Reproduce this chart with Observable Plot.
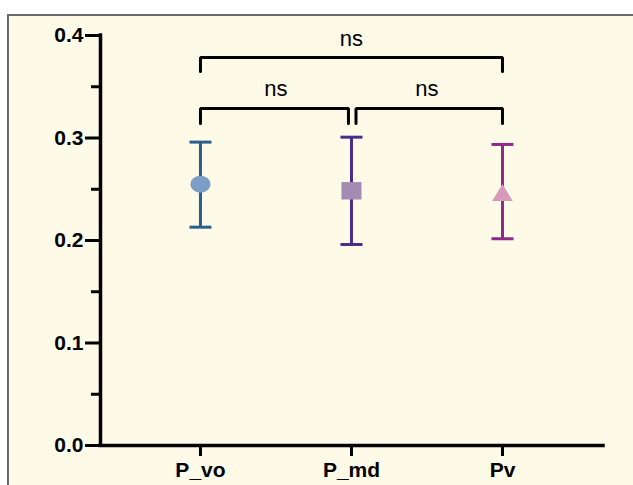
<!DOCTYPE html>
<html>
<head>
<meta charset="utf-8">
<script src="https://cdn.jsdelivr.net/npm/d3@7"></script>
<script src="https://cdn.jsdelivr.net/npm/@observablehq/plot@0.6"></script>
<style>
  html, body { margin: 0; padding: 0; background: #ffffff; width: 633px; height: 485px; overflow: hidden; }
  #panel {
    position: absolute; left: 7px; top: 14px; width: 626px; height: 471px;
    border-left: 2px solid #6a6a6a; border-top: 2px solid #6a6a6a;
    background: #fefae8; overflow: hidden;
  }
  #panel svg { display: block; }
</style>
</head>
<body>
<div id="panel"></div>
<script>
// ---- data ----
const categories = ["P_vo", "P_md", "Pv"];
const means = [0.255, 0.2485, 0.2468];
const upper = [0.296, 0.3008, 0.2937];
const lower = [0.213, 0.1961, 0.2017];
const barColors = ["#2b5d8e", "#4b2d8c", "#8e2a8a"];
const markerColors = ["#7b9ec6", "#a38ab0", "#d79ab9"];
const yMajorTicks = [0, 0.1, 0.2, 0.3, 0.4];
const yMinorTicks = [0.05, 0.15, 0.25, 0.35];

// significance brackets
const bracketFrom = [1, 1, 2];
const bracketTo = [3, 2, 3];
const bracketInsetFrom = [0, 0, 0.03];
const bracketInsetTo = [0, 0.02, 0];
const bracketTop = [0.3785, 0.3288, 0.3288];
const bracketFoot = [0.3649, 0.3141, 0.3141];
const bracketLabelY = [0.397, 0.3483, 0.3483];
const bracketLabels = ["ns", "ns", "ns"];

// ---- tables ----
const rows = categories.map((c, k) => ({
  i: k + 1, name: c, mean: means[k], hi: upper[k], lo: lower[k],
  bar: barColors[k], marker: markerColors[k]
}));
const bracketPts = [];
const bracketText = [];
bracketFrom.forEach((a, k) => {
  const x1 = a + bracketInsetFrom[k], x2 = bracketTo[k] - bracketInsetTo[k];
  bracketPts.push({k, x: x1, y: bracketFoot[k]}, {k, x: x1, y: bracketTop[k]},
                  {k, x: x2, y: bracketTop[k]}, {k, x: x2, y: bracketFoot[k]});
  bracketText.push({x: (a + bracketTo[k]) / 2, y: bracketLabelY[k], t: bracketLabels[k]});
});

// ---- symbols ----
const cap = {draw(ctx) { ctx.moveTo(-11, 0); ctx.lineTo(11, 0); }};
const ellipse = {draw(ctx) {
  const rx = 10, ry = 8.3, q = 0.5523;
  ctx.moveTo(rx, 0);
  ctx.bezierCurveTo(rx, ry * q, rx * q, ry, 0, ry);
  ctx.bezierCurveTo(-rx * q, ry, -rx, ry * q, -rx, 0);
  ctx.bezierCurveTo(-rx, -ry * q, -rx * q, -ry, 0, -ry);
  ctx.bezierCurveTo(rx * q, -ry, rx, -ry * q, rx, 0);
  ctx.closePath();
}};
const square = {draw(ctx) { ctx.rect(-10, -8.7, 20, 17.4); }};
const triangle = {draw(ctx) { ctx.moveTo(0, -8.5); ctx.lineTo(10.3, 8.5); ctx.lineTo(-10.3, 8.5); ctx.closePath(); }};
const shapes = [ellipse, square, triangle];

const xDomain = [0.338, 3.669];
const font = "Liberation Sans, Arial, Helvetica, sans-serif";

const chart = Plot.plot({
  width: 624,
  height: 469,
  marginLeft: 91,
  marginRight: 30,
  marginTop: 19,
  marginBottom: 40,
  style: {background: "transparent", fontFamily: font, overflow: "visible", color: "#000"},
  x: {type: "linear", domain: xDomain},
  y: {domain: [0, 0.4]},
  color: {type: "identity"},
  marks: [
    Plot.axisY(yMinorTicks, {tickSize: 9, strokeWidth: 3, tickFormat: () => "", label: null}),
    Plot.axisY(yMajorTicks, {tickSize: 15, strokeWidth: 3, tickPadding: 2, fontSize: 21, fontWeight: "bold",
                             tickFormat: d3.format(".1f"), label: null}),
    Plot.axisX(rows.map(d => d.i), {tickSize: 11, strokeWidth: 3, tickPadding: 6, fontSize: 21, fontWeight: "bold",
                             tickFormat: i => categories[i - 1], label: null}),
    Plot.ruleY([0], {strokeWidth: 3.5, strokeLinecap: "square"}),
    Plot.ruleX([xDomain[0]], {y1: 0, y2: 0.4, strokeWidth: 3.5, strokeLinecap: "square"}),
    Plot.ruleX(rows, {x: "i", y1: "lo", y2: "hi", stroke: "bar", strokeWidth: 3}),
    Plot.dot(rows, {x: "i", y: "hi", symbol: cap, stroke: "bar", fill: "none", strokeWidth: 3}),
    Plot.dot(rows, {x: "i", y: "lo", symbol: cap, stroke: "bar", fill: "none", strokeWidth: 3}),
    ...rows.map((d, k) => Plot.dot([d], {x: "i", y: "mean", symbol: shapes[k], fill: "marker", stroke: "none"})),
    Plot.line(bracketPts, {x: "x", y: "y", z: "k", stroke: "#000", strokeWidth: 3, strokeLinejoin: "miter"}),
    Plot.text(bracketText, {x: "x", y: "y", text: "t", fontSize: 22, fill: "#000"})
  ]
});
document.getElementById("panel").appendChild(chart);
</script>
</body>
</html>
